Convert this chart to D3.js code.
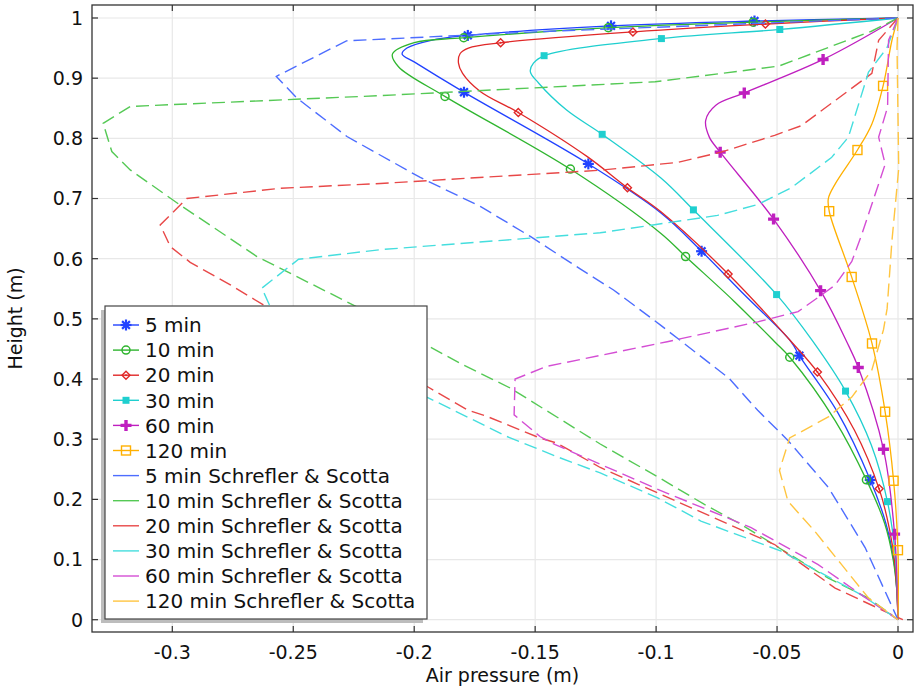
<!DOCTYPE html>
<html>
<head>
<meta charset="utf-8">
<script src="https://cdn.jsdelivr.net/npm/d3@7"></script>
<style>
  body { margin: 0; background: #fff; }
  svg { display: block; }
  text { font-family: "DejaVu Sans", sans-serif; fill: #111; }
</style>
</head>
<body>
<svg id="chart" width="916" height="688"></svg>
<script>
// model results, [air pressure (m), height (m)]
const model5 = [[0,1],[-0.059,0.995],[-0.1186,0.987],[-0.178,0.971],[-0.193,0.963],[-0.203,0.95],[-0.205,0.94],[-0.2,0.927],[-0.18,0.878],[-0.1286,0.759],[-0.098,0.676],[-0.0811,0.612],[-0.0635,0.54],[-0.0442,0.462],[-0.0408,0.439],[-0.025,0.345],[-0.0115,0.2326],[-0.005,0.16],[-0.0018,0.1],[-0.0005,0.05],[0,0]];
const model10 = [[0,1],[-0.06,0.993],[-0.119,0.984],[-0.18,0.967],[-0.2,0.959],[-0.209,0.94],[-0.2065,0.919],[-0.187,0.869],[-0.1355,0.749],[-0.098,0.642],[-0.0874,0.602],[-0.0677,0.529],[-0.051,0.462],[-0.0445,0.435],[-0.026,0.331],[-0.013,0.232],[-0.0055,0.16],[-0.002,0.1],[-0.0005,0.05],[0,0]];
const model20 = [[0,1],[-0.0543,0.99],[-0.109,0.977],[-0.1638,0.959],[-0.1776,0.95],[-0.181,0.941],[-0.1817,0.925],[-0.18,0.908],[-0.1727,0.878],[-0.157,0.843],[-0.1286,0.77],[-0.1119,0.718],[-0.098,0.678],[-0.0698,0.573],[-0.0441,0.462],[-0.033,0.41],[-0.018,0.315],[-0.0076,0.215],[-0.0035,0.15],[-0.0012,0.09],[0,0]];
const model30 = [[0,1],[-0.0486,0.981],[-0.0973,0.966],[-0.1459,0.938],[-0.1507,0.925],[-0.152,0.911],[-0.1486,0.892],[-0.137,0.847],[-0.1224,0.807],[-0.098,0.734],[-0.0843,0.68],[-0.0499,0.539],[-0.0351,0.462],[-0.0217,0.38],[-0.011,0.29],[-0.0043,0.195],[-0.0012,0.11],[0,0]];
const model60 = [[0,1],[-0.0305,0.932],[-0.0632,0.876],[-0.0753,0.855],[-0.0795,0.83],[-0.078,0.802],[-0.0735,0.777],[-0.0513,0.665],[-0.0316,0.544],[-0.0212,0.462],[-0.0164,0.419],[-0.006,0.283],[-0.0014,0.142],[0,0]];
const model120 = [[0,1],[-0.0025,0.963],[-0.006,0.89],[-0.0108,0.824],[-0.0167,0.781],[-0.026,0.724],[-0.0288,0.7],[-0.0284,0.678],[-0.0191,0.569],[-0.0108,0.46],[-0.0053,0.345],[-0.0018,0.23],[0,0.114],[0,0]];

// Schrefler & Scotta, [air pressure (m), height (m)]
const ref5 = [[0,1],[-0.15,0.977],[-0.228,0.962],[-0.257,0.903],[-0.2485,0.867],[-0.2278,0.803],[-0.1975,0.735],[-0.1727,0.687],[-0.152,0.637],[-0.1314,0.583],[-0.1176,0.548],[-0.0983,0.49],[-0.0698,0.401],[-0.058,0.348],[-0.0455,0.298],[-0.0288,0.22],[-0.0136,0.12],[0,0]];
const ref10 = [[0,1],[-0.011,0.978],[-0.0493,0.92],[-0.1004,0.894],[-0.214,0.871],[-0.3174,0.853],[-0.3286,0.825],[-0.325,0.778],[-0.3174,0.7475],[-0.2967,0.689],[-0.265,0.6035],[-0.2237,0.52],[-0.181,0.426],[-0.1603,0.385],[-0.1231,0.292],[-0.0983,0.235],[-0.0802,0.192],[-0.0649,0.1585],[-0.0288,0.069],[-0.0122,0.036],[0,0]];
const ref20 = [[0,1],[-0.008,0.963],[-0.0108,0.908],[-0.04,0.821],[-0.051,0.805],[-0.0732,0.777],[-0.0912,0.76],[-0.1231,0.747],[-0.214,0.725],[-0.2554,0.717],[-0.294,0.7],[-0.305,0.656],[-0.3008,0.62],[-0.2926,0.594],[-0.276,0.5565],[-0.2623,0.523],[-0.1948,0.388],[-0.1782,0.349],[-0.17,0.338],[-0.148,0.302],[-0.141,0.2935],[-0.1231,0.253],[-0.0982,0.2086],[-0.051,0.125],[-0.026,0.0525],[0.002,0]];
const ref30 = [[0,1],[-0.0046,0.95],[-0.0122,0.91],[-0.0205,0.802],[-0.0275,0.768],[-0.0441,0.718],[-0.058,0.69],[-0.0746,0.672],[-0.1231,0.643],[-0.214,0.615],[-0.2478,0.599],[-0.263,0.551],[-0.2595,0.52],[-0.1948,0.37],[-0.1617,0.3045],[-0.141,0.271],[-0.1231,0.244],[-0.0996,0.203],[-0.0815,0.164],[-0.0483,0.114],[-0.015,0.041],[0,0]];
const ref60 = [[0,1],[-0.0039,0.963],[-0.0043,0.852],[-0.008,0.802],[-0.0053,0.757],[-0.015,0.64],[-0.0191,0.5955],[-0.026,0.556],[-0.0413,0.512],[-0.058,0.495],[-0.0954,0.462],[-0.1452,0.421],[-0.1583,0.4],[-0.1587,0.3405],[-0.148,0.3045],[-0.1417,0.291],[-0.0983,0.215],[-0.0607,0.153],[-0.033,0.0915],[-0.015,0.041],[0,0]];
const ref120 = [[0,1],[-0.0004,0.95],[0.0003,0.75],[-0.0025,0.63],[-0.0045,0.517],[-0.006,0.482],[-0.0108,0.415],[-0.0191,0.37],[-0.0288,0.337],[-0.0448,0.302],[-0.049,0.248],[-0.0455,0.197],[-0.0344,0.147],[-0.0233,0.0915],[-0.0122,0.036],[0,0]];

const timeLabels = ["5 min", "10 min", "20 min", "30 min", "60 min", "120 min"];
const xTicks = [-0.3, -0.25, -0.2, -0.15, -0.1, -0.05, 0];
const yTicks = [0, 0.1, 0.2, 0.3, 0.4, 0.5, 0.6, 0.7, 0.8, 0.9, 1];

const modelData = [model5, model10, model20, model30, model60, model120];
const refData = [ref5, ref10, ref20, ref30, ref60, ref120];
const modelColors = ["#2142ff", "#2fb52f", "#e02828", "#1fcfcf", "#bf1fbf", "#ffb000"];
const refColors = ["#4d6dff", "#55c955", "#e84848", "#45dede", "#d44ed4", "#ffc540"];
const markerTypes = ["star", "circle", "diamond", "fsquare", "plus", "osquare"];

const svg = d3.select("#chart");
const plot = { left: 92, right: 913, top: 5, bottom: 632 };

const x = d3.scaleLinear().domain([-0.3332, 0.0062]).range([plot.left, plot.right]);
const y = d3.scaleLinear().domain([-0.0204, 1.0216]).range([plot.bottom, plot.top]);

svg.append("defs").append("clipPath").attr("id", "clip")
  .append("rect")
  .attr("x", plot.left).attr("y", plot.top)
  .attr("width", plot.right - plot.left).attr("height", plot.bottom - plot.top);

// grid
const grid = svg.append("g");
grid.selectAll(".gx").data(xTicks).enter().append("line")
  .attr("x1", d => x(d)).attr("x2", d => x(d))
  .attr("y1", plot.top).attr("y2", plot.bottom)
  .attr("stroke", "#e8e8e8").attr("stroke-width", 1.2);
grid.selectAll(".gy").data(yTicks).enter().append("line")
  .attr("y1", d => y(d)).attr("y2", d => y(d))
  .attr("x1", plot.left).attr("x2", plot.right)
  .attr("stroke", "#e8e8e8").attr("stroke-width", 1.2);

const smooth = d3.line().x(d => x(d[0])).y(d => y(d[1])).curve(d3.curveCatmullRom.alpha(0.5));
const straight = d3.line().x(d => x(d[0])).y(d => y(d[1]));

function drawMarker(g, type, color) {
  if (type === "star") {
    [0, 45, 90, 135].forEach(a => {
      g.append("line").attr("x1", -5.5).attr("x2", 5.5).attr("y1", 0).attr("y2", 0)
        .attr("transform", `rotate(${a})`)
        .attr("stroke", color).attr("stroke-width", 2.2);
    });
  } else if (type === "circle") {
    g.append("circle").attr("r", 4).attr("fill", "none").attr("stroke", color).attr("stroke-width", 1.5);
  } else if (type === "diamond") {
    g.append("path").attr("d", "M0,-4L4,0L0,4L-4,0Z").attr("fill", "none").attr("stroke", color).attr("stroke-width", 1.4);
    g.append("circle").attr("r", 1).attr("fill", color);
  } else if (type === "fsquare") {
    g.append("rect").attr("x", -3.5).attr("y", -3.5).attr("width", 7).attr("height", 7).attr("fill", color);
  } else if (type === "plus") {
    g.append("path").attr("d", "M-5.5,0H5.5M0,-5.5V5.5").attr("stroke", color).attr("stroke-width", 3.4);
  } else if (type === "osquare") {
    g.append("rect").attr("x", -4.5).attr("y", -4.5).attr("width", 9).attr("height", 9)
      .attr("fill", "none").attr("stroke", color).attr("stroke-width", 1.4);
  }
}

const curves = svg.append("g").attr("clip-path", "url(#clip)");

modelData.forEach((data, i) => {
  const path = curves.append("path")
    .datum(data)
    .attr("d", smooth)
    .attr("fill", "none")
    .attr("stroke", modelColors[i])
    .attr("stroke-width", 1.3);
  // markers spread evenly along the curve length
  const node = path.node();
  const L = node.getTotalLength();
  d3.range(1, 9).forEach(k => {
    const pt = node.getPointAtLength(k * L / 9);
    drawMarker(curves.append("g").attr("transform", `translate(${pt.x},${pt.y})`), markerTypes[i], modelColors[i]);
  });
});

refData.forEach((data, i) => {
  curves.append("path")
    .datum(data)
    .attr("d", straight)
    .attr("fill", "none")
    .attr("stroke", refColors[i])
    .attr("stroke-width", 1.4)
    .attr("stroke-dasharray", "13,6");
});

// frame and inward ticks
svg.append("rect")
  .attr("x", plot.left).attr("y", plot.top)
  .attr("width", plot.right - plot.left).attr("height", plot.bottom - plot.top)
  .attr("fill", "none").attr("stroke", "#333").attr("stroke-width", 1.3);

const ticks = svg.append("g").attr("stroke", "#333").attr("stroke-width", 1.2);
xTicks.forEach(t => {
  ticks.append("line").attr("x1", x(t)).attr("x2", x(t)).attr("y1", plot.bottom).attr("y2", plot.bottom - 6);
  ticks.append("line").attr("x1", x(t)).attr("x2", x(t)).attr("y1", plot.top).attr("y2", plot.top + 6);
});
yTicks.forEach(t => {
  ticks.append("line").attr("y1", y(t)).attr("y2", y(t)).attr("x1", plot.left).attr("x2", plot.left + 6);
  ticks.append("line").attr("y1", y(t)).attr("y2", y(t)).attr("x1", plot.right).attr("x2", plot.right - 6);
});

svg.append("g").selectAll("text").data(xTicks).enter().append("text")
  .attr("x", d => x(d)).attr("y", 659)
  .attr("text-anchor", "middle")
  .style("font-size", "19px")
  .text(d => String(d));

svg.append("g").selectAll("text").data(yTicks).enter().append("text")
  .attr("x", 83).attr("y", d => y(d))
  .attr("dy", "0.36em")
  .attr("text-anchor", "end")
  .style("font-size", "19px")
  .text(d => String(d));

svg.append("text")
  .attr("x", (plot.left + plot.right) / 2).attr("y", 682)
  .attr("text-anchor", "middle")
  .style("font-size", "19px")
  .text("Air pressure (m)");

svg.append("text")
  .attr("transform", `translate(22,${(plot.top + plot.bottom) / 2}) rotate(-90)`)
  .attr("text-anchor", "middle")
  .style("font-size", "19px")
  .text("Height (m)");

// legend
const leg = { x: 105, y: 306, w: 322, h: 313, row: 25.1 };
svg.append("rect")
  .attr("x", leg.x - 4).attr("y", leg.y + 4).attr("width", leg.w).attr("height", leg.h)
  .attr("fill", "#bdbdbd");
svg.append("rect")
  .attr("x", leg.x).attr("y", leg.y).attr("width", leg.w).attr("height", leg.h)
  .attr("fill", "#fff").attr("stroke", "#444").attr("stroke-width", 1.2);

const legendItems = timeLabels.map((t, i) => ({ label: t, color: modelColors[i], marker: markerTypes[i] }))
  .concat(timeLabels.map((t, i) => ({ label: t + " Schrefler & Scotta", color: refColors[i], marker: null })));

legendItems.forEach((item, i) => {
  const cy = leg.y + 19 + i * leg.row;
  svg.append("line")
    .attr("x1", leg.x + 8).attr("x2", leg.x + 34)
    .attr("y1", cy).attr("y2", cy)
    .attr("stroke", item.color).attr("stroke-width", 1.4);
  if (item.marker) {
    drawMarker(svg.append("g").attr("transform", `translate(${leg.x + 21},${cy})`), item.marker, item.color);
  }
  svg.append("text")
    .attr("x", leg.x + 40).attr("y", cy)
    .attr("dy", "0.36em")
    .style("font-size", "20px")
    .text(item.label);
});
</script>
</body>
</html>
